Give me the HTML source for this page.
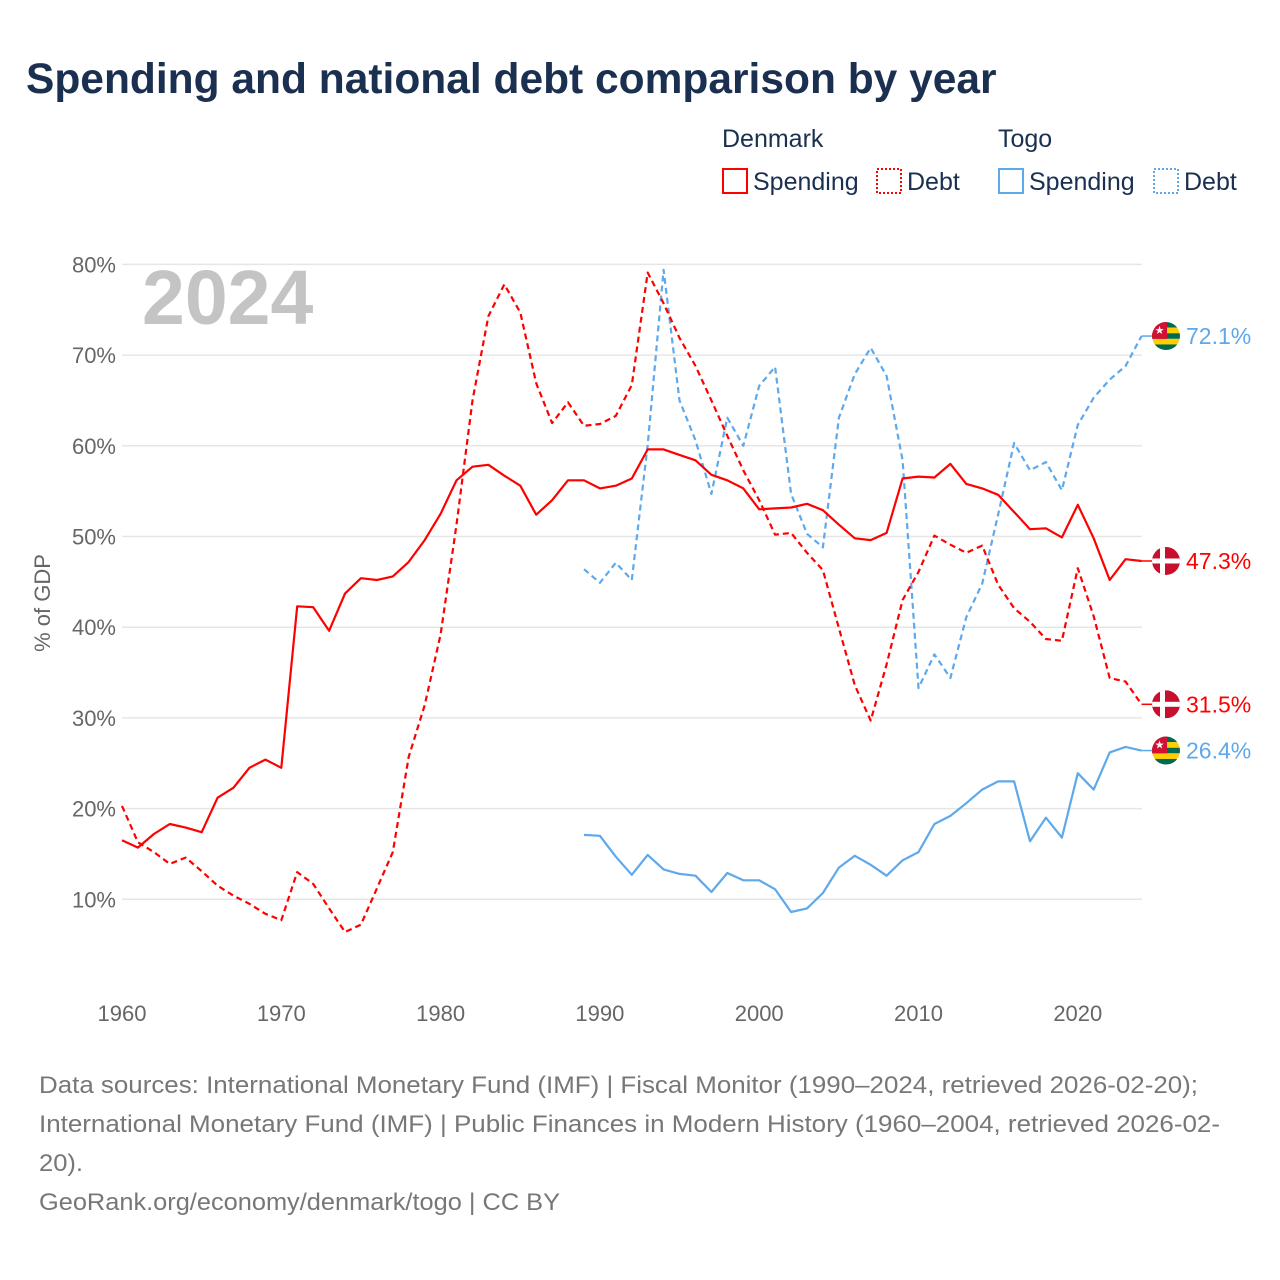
<!DOCTYPE html>
<html><head><meta charset="utf-8"><style>
body{margin:0;background:#fff;font-family:"Liberation Sans",sans-serif;}
#wrap{position:relative;width:1280px;height:1280px;overflow:hidden}
</style></head><body>
<div id="wrap">
<svg id="chart" width="1280" height="1280" xmlns="http://www.w3.org/2000/svg">
<text x="26" y="93" font-size="42.5" font-weight="bold" fill="#1b3050">Spending and national debt comparison by year</text>
<g font-size="25" fill="#1b3050">
<text x="722" y="147">Denmark</text>
<text x="998" y="147">Togo</text>
<g><rect x="723" y="169" width="24" height="24" fill="none" stroke="#ff0000" stroke-width="2"/><text x="753" y="190">Spending</text></g>
<g><rect x="877" y="169" width="24" height="24" fill="none" stroke="#ff0000" stroke-width="2" stroke-dasharray="2,2"/><text x="907" y="190">Debt</text></g>
<g><rect x="999" y="169" width="24" height="24" fill="none" stroke="#5ea8ec" stroke-width="2"/><text x="1029" y="190">Spending</text></g>
<g><rect x="1154" y="169" width="24" height="24" fill="none" stroke="#5ea8ec" stroke-width="2" stroke-dasharray="2,2"/><text x="1184" y="190">Debt</text></g>
</g>
<g id="grid"></g>
<text x="142" y="324" font-size="77" font-weight="bold" fill="#c4c4c4">2024</text>
<text transform="translate(50,603) rotate(-90)" text-anchor="middle" font-size="22" fill="#666">% of GDP</text>
<g id="series"></g>
<g id="labels"></g>
<g font-size="24" fill="#777">
<text x="39" y="1093" textLength="1159" lengthAdjust="spacingAndGlyphs">Data sources: International Monetary Fund (IMF) | Fiscal Monitor (1990–2024, retrieved 2026-02-20);</text>
<text x="39" y="1132" textLength="1181" lengthAdjust="spacingAndGlyphs">International Monetary Fund (IMF) | Public Finances in Modern History (1960–2004, retrieved 2026-02-</text>
<text x="39" y="1171" textLength="44" lengthAdjust="spacingAndGlyphs">20).</text>
<text x="39" y="1210" textLength="521" lengthAdjust="spacingAndGlyphs">GeoRank.org/economy/denmark/togo | CC BY</text>
</g>
</svg>
</div>
<script>
const yTicks=[10,20,30,40,50,60,70,80];
const xTicks=[1960,1970,1980,1990,2000,2010,2020];
const dkSpendStart=1960;
const dkSpending=[16.5,15.7,17.2,18.3,17.9,17.4,21.2,22.3,24.5,25.4,24.5,42.3,42.2,39.6,43.7,45.4,45.2,45.6,47.2,49.6,52.5,56.2,57.7,57.9,56.7,55.6,52.4,54.0,56.2,56.2,55.3,55.6,56.4,59.6,59.6,59.0,58.4,56.8,56.2,55.3,53.0,53.1,53.2,53.6,52.9,51.3,49.8,49.6,50.4,56.4,56.6,56.5,58.0,55.8,55.3,54.6,52.7,50.8,50.9,49.9,53.5,49.8,45.2,47.5,47.3];
const dkDebt=[20.3,16.3,15.2,13.9,14.6,13.1,11.5,10.4,9.5,8.4,7.7,13.0,11.7,9.0,6.4,7.2,11.2,15.2,25.7,31.4,39.2,51.3,65.0,74.3,77.8,74.7,66.9,62.5,64.8,62.2,62.4,63.3,66.7,79.1,75.7,71.9,68.8,65.0,61.1,57.3,54.0,50.2,50.4,48.2,46.3,39.9,33.6,29.7,35.9,43.0,46.1,50.1,49.1,48.2,49.0,44.7,42.1,40.6,38.7,38.5,46.5,41.2,34.4,34.0,31.5];
const tgStart=1989;
const tgSpending=[17.1,17.0,14.7,12.7,14.9,13.3,12.8,12.6,10.8,12.9,12.1,12.1,11.1,8.6,9.0,10.7,13.5,14.8,13.8,12.6,14.3,15.2,18.3,19.2,20.6,22.1,23.0,23.0,16.4,19.0,16.8,23.9,22.1,26.2,26.8,26.4];
const tgDebt=[46.4,44.9,47.1,45.2,60.1,79.4,65.0,60.6,54.7,63.1,60.0,66.6,68.7,54.7,50.3,48.8,63.1,67.9,70.8,67.7,58.4,33.3,37.0,34.4,41.1,44.8,52.4,60.3,57.3,58.2,55.1,62.3,65.3,67.3,68.8,72.1];

const NS='http://www.w3.org/2000/svg';
const X=yr=>122+(yr-1960)*15.93;
const Y=v=>990-v*9.07;
function mk(t,a,p){const e=document.createElementNS(NS,t);for(const k in a)e.setAttribute(k,a[k]);p.appendChild(e);return e;}
const grid=document.getElementById('grid');
yTicks.forEach(v=>{
 const l=mk('line',{x1:122,x2:1142,y1:Y(v),y2:Y(v),stroke:'#e6e6e6','stroke-width':1.5},grid);
 
 
 const t=mk('text',{x:116,y:Y(v)+8,'text-anchor':'end','font-size':22,fill:'#666'},grid);
 t.textContent=v+'%';
 
 
});
xTicks.forEach(yr=>{
 const t=mk('text',{x:X(yr),y:1021,'text-anchor':'middle','font-size':22,fill:'#666'},grid);
 t.textContent=yr;
 
 
});
const series=document.getElementById('series');
function line(arr,start,color,dash,name){
 const d=arr.map((v,i)=>(i?'L':'M')+X(start+i).toFixed(1)+','+Y(v).toFixed(1)).join('');
 const p=mk('path',{d:d,fill:'none',stroke:color,'stroke-width':2.2,'stroke-linejoin':'round'},series);
 if(dash)p.setAttribute('stroke-dasharray','6,4');
 
 
}
const RED='#ff0000',BLUE='#5ea8ec';
line(tgDebt,tgStart,BLUE,true,'togo-debt-line');
line(tgSpending,tgStart,BLUE,false,'togo-spending-line');
line(dkDebt,dkSpendStart,RED,true,'denmark-debt-line');
line(dkSpending,dkSpendStart,RED,false,'denmark-spending-line');

const labels=document.getElementById('labels');
function endLabel(arr,start,color,country,name){
 const v=arr[arr.length-1];const yy=Y(v);const x0=X(start+arr.length-1);
 const g=mk('g',{},labels);
 
 
 mk('line',{x1:x0,x2:1152,y1:yy,y2:yy,stroke:color,'stroke-width':1.5},g);
 const cx=1166,r=14;
 const cid='c'+name;
 const cp=mk('clipPath',{id:cid},g);mk('circle',{cx:cx,cy:yy,r:r},cp);
 const f=mk('g',{'clip-path':'url(#'+cid+')'},g);
 if(country==='dk'){
  mk('rect',{x:cx-r,y:yy-r,width:2*r,height:2*r,fill:'#c8102e'},f);
  mk('rect',{x:cx-r,y:yy-2.5,width:2*r,height:5,fill:'#fff'},f);
  mk('rect',{x:cx-6,y:yy-r,width:5,height:2*r,fill:'#fff'},f);
 } else {
  for(let i=0;i<5;i++)mk('rect',{x:cx-r,y:yy-r+i*5.6,width:2*r,height:5.6,fill:i%2?'#ffce00':'#006a4e'},f);
  mk('rect',{x:cx-r,y:yy-r,width:15,height:16.8,fill:'#d21034'},f);
  const t=mk('text',{x:cx-6.5,y:yy-2,'text-anchor':'middle','font-size':11,fill:'#fff'},f);t.textContent='★';
 }
 const t=mk('text',{x:1186,y:yy+8,'font-size':23,fill:color},g);
 t.textContent=v.toFixed(1)+'%';
}
endLabel(tgDebt,tgStart,BLUE,'tg','label-togo-debt');
endLabel(dkSpending,dkSpendStart,RED,'dk','label-denmark-spending');
endLabel(dkDebt,dkSpendStart,RED,'dk','label-denmark-debt');
endLabel(tgSpending,tgStart,BLUE,'tg','label-togo-spending');
</script>
</body></html>
